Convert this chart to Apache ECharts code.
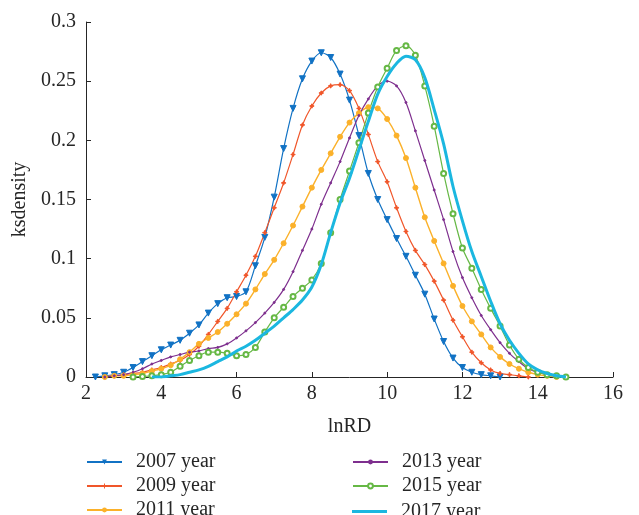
<!DOCTYPE html>
<html>
<head>
<meta charset="utf-8">
<script src="https://cdn.jsdelivr.net/npm/echarts@6/dist/echarts.min.js"></script>
<style>
  html, body { margin: 0; padding: 0; background: #fff; }
  #chart { width: 639px; height: 515px; }
</style>
</head>
<body>
<div id="chart"></div>
<script>
// shared lnRD grid (x), one value per grid point; null where a curve has no data
const lnRD = [2.25, 2.5, 2.75, 3, 3.25, 3.5, 3.75, 4, 4.25, 4.5, 4.75, 5, 5.25, 5.5, 5.75, 6, 6.25, 6.5, 6.75, 7,
  7.25, 7.5, 7.75, 8, 8.25, 8.5, 8.75, 9, 9.25, 9.5, 9.75, 10, 10.25, 10.5, 10.75, 11, 11.25, 11.5, 11.75, 12,
  12.25, 12.5, 12.75, 13, 13.25, 13.5, 13.75, 14, 14.25, 14.5, 14.75]

const y2007 = [0, 0.001, 0.002, 0.004, 0.008, 0.013, 0.018, 0.023, 0.027, 0.031, 0.037, 0.044, 0.054, 0.062, 0.067, 0.068,
  0.072, 0.094, 0.118, 0.152, 0.193, 0.227, 0.252, 0.267, 0.274, 0.270, 0.256, 0.234, 0.204, 0.172, 0.150, 0.133, 0.117,
  0.102, 0.086, 0.070, 0.049, 0.030, 0.016, 0.008, 0.004, 0.002, 0.001, 0, null, null, null, null, null, null, null]
const y2009 = [null, 0, 0.001, 0.002, 0.003, 0.004, 0.006, 0.008, 0.011, 0.014, 0.019, 0.026, 0.036, 0.047, 0.058, 0.072,
  0.086, 0.102, 0.122, 0.143, 0.164, 0.188, 0.213, 0.229, 0.240, 0.246, 0.247, 0.242, 0.227, 0.205, 0.182, 0.165, 0.143,
  0.123, 0.107, 0.095, 0.081, 0.065, 0.048, 0.034, 0.021, 0.012, 0.006, 0.003, 0.002, 0.001, 0, null, null, null, null]
const y2011 = [null, 0, 0.001, 0.001, 0.002, 0.003, 0.005, 0.007, 0.010, 0.015, 0.021, 0.028, 0.033, 0.038, 0.045, 0.053,
  0.062, 0.074, 0.087, 0.099, 0.113, 0.128, 0.144, 0.160, 0.175, 0.189, 0.203, 0.215, 0.223, 0.228, 0.227, 0.218, 0.204,
  0.185, 0.160, 0.135, 0.115, 0.096, 0.077, 0.060, 0.047, 0.036, 0.025, 0.017, 0.011, 0.007, 0.004, 0.002, 0.001, 0, null]
const y2013 = [null, 0, 0.001, 0.002, 0.004, 0.007, 0.011, 0.014, 0.017, 0.019, 0.021, 0.022, 0.024, 0.025, 0.028, 0.033,
  0.039, 0.046, 0.054, 0.063, 0.074, 0.089, 0.107, 0.125, 0.146, 0.164, 0.182, 0.202, 0.221, 0.235, 0.246, 0.250, 0.246,
  0.232, 0.208, 0.183, 0.158, 0.133, 0.106, 0.084, 0.067, 0.052, 0.040, 0.029, 0.020, 0.013, 0.007, 0.004, 0.002, 0.001, 0]
const y2015 = [null, null, null, null, 0, 0.0005, 0.001, 0.002, 0.004, 0.009, 0.014, 0.018, 0.021, 0.021, 0.020, 0.018,
  0.019, 0.025, 0.038, 0.050, 0.059, 0.068, 0.075, 0.082, 0.096, 0.122, 0.150, 0.174, 0.198, 0.223, 0.245, 0.261, 0.276,
  0.280, 0.272, 0.246, 0.212, 0.172, 0.138, 0.109, 0.092, 0.074, 0.058, 0.043, 0.027, 0.015, 0.008, 0.004, 0.002, 0.001, 0]
const y2017 = [null, null, null, null, null, null, 0, 0, 0.001, 0.002, 0.004, 0.006, 0.009, 0.013, 0.017, 0.022,
  0.026, 0.031, 0.037, 0.043, 0.050, 0.057, 0.065, 0.076, 0.095, 0.122, 0.147, 0.168, 0.192, 0.216, 0.239, 0.254, 0.265,
  0.271, 0.268, 0.253, 0.226, 0.197, 0.161, 0.132, 0.106, 0.085, 0.064, 0.045, 0.031, 0.020, 0.011, 0.006, 0.003, 0.001, 0]

const years = ['2007 year', '2009 year', '2011 year', '2013 year', '2015 year', '2017 year']
const xTicks = [2, 4, 6, 8, 10, 12, 14, 16]
const yTicks = [0, 0.05, 0.1, 0.15, 0.2, 0.25, 0.3]

const font = 'Liberation Serif'
const fontSize = 20
const ink = '#262626'

function pairs(ys) {
  const out = []
  ys.forEach((y, i) => { if (y !== null) out.push([lnRD[i], y]) })
  return out
}

const plus = 'path://M4,0h2v4h4v2h-4v4h-2v-4h-4v-2h4z'

const seriesDefs = [
  { name: years[0], ys: y2007, color: '#1172C4', symbol: 'triangle', rotate: 180, size: 6, width: 1.2 },
  { name: years[1], ys: y2009, color: '#F0562A', symbol: plus, size: 4, width: 1.2 },
  { name: years[2], ys: y2011, color: '#FBB12A', symbol: 'circle', size: 5, width: 1.4 },
  { name: years[3], ys: y2013, color: '#7E2F8E', symbol: 'circle', size: 2, width: 1.2 },
  { name: years[4], ys: y2015, color: '#66B845', symbol: 'emptyCircle', size: 5, width: 1.2 },
  { name: years[5], ys: y2017, color: '#1BB7E0', symbol: 'none', size: 0, width: 3 }
]

const chart = echarts.init(document.getElementById('chart'))

// one legend per entry: two columns of three rows, last row clipped by the bottom edge
const legendRows = [452, 476, 500]
const legendCols = [86, 352]
const legends = years.map((name, i) => {
  const thick = i === 5
  return {
    data: thick ? [{ name: name, icon: 'rect' }] : [name],
    left: legendCols[Math.floor(i / 3)],
    top: legendRows[i % 3] + (thick ? 1.5 : 0),
    padding: 0,
    itemWidth: 35,
    itemHeight: thick ? 3 : 6,
    textStyle: { fontFamily: font, fontSize: fontSize, lineHeight: 14, color: ink, padding: [0, 0, 0, 9] }
  }
})

chart.setOption({
  backgroundColor: '#fff',
  animation: false,
  textStyle: { fontFamily: font },
  grid: { left: 86, right: 26, top: 22, bottom: 138, containLabel: false },
  legend: legends,
  xAxis: {
    type: 'value',
    min: xTicks[0],
    max: xTicks[xTicks.length - 1],
    interval: 2,
    name: 'lnRD',
    nameLocation: 'middle',
    nameGap: 40,
    nameTextStyle: { fontFamily: font, fontSize: fontSize, color: ink },
    axisLine: { show: true, lineStyle: { color: ink, width: 1 } },
    axisTick: { show: true, inside: true, length: 5, lineStyle: { color: ink } },
    axisLabel: { margin: 7, fontFamily: font, fontSize: fontSize, color: ink },
    splitLine: { show: false }
  },
  yAxis: {
    type: 'value',
    min: yTicks[0],
    max: yTicks[yTicks.length - 1],
    interval: 0.05,
    name: 'ksdensity',
    nameLocation: 'middle',
    nameGap: 51,
    nameTextStyle: { fontFamily: font, fontSize: fontSize, color: ink },
    axisLine: { show: true, lineStyle: { color: ink, width: 1 } },
    axisTick: { show: true, inside: true, length: 5, lineStyle: { color: ink } },
    axisLabel: { margin: 10, fontFamily: font, fontSize: fontSize, color: ink },
    splitLine: { show: false }
  },
  series: seriesDefs.map((s) => ({
    name: s.name,
    type: 'line',
    data: pairs(s.ys),
    smooth: 0.3,
    symbol: s.symbol,
    symbolSize: s.size,
    symbolRotate: s.rotate || 0,
    showSymbol: s.symbol !== 'none',
    color: s.color,
    lineStyle: { color: s.color, width: s.width },
    itemStyle: { color: s.color, borderColor: s.color },
    z: s.name === years[5] ? 3 : 2
  }))
})
</script>
</body>
</html>
